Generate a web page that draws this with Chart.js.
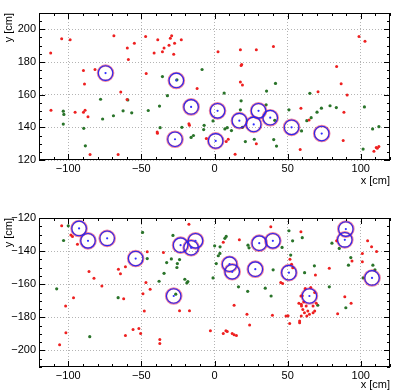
<!DOCTYPE html>
<html>
<head>
<meta charset="utf-8">
<script src="https://cdn.jsdelivr.net/npm/chart.js@4.4.0/dist/chart.umd.min.js"></script>
<style>
  html, body { margin: 0; padding: 0; background: #fff; }
  #top, #bot { position: absolute; left: 0; width: 400px; }
  #top { top: 0; height: 190px; }
  #bot { top: 190px; height: 202px; }
</style>
</head>
<body>
<div id="top"><canvas id="topChart"></canvas></div>
<div id="bot"><canvas id="botChart"></canvas></div>
<script>
// axis tick labels
var xTicks = [-100, -50, 0, 50, 100];
var yTicksTop = [120, 140, 160, 180, 200];
var yTicksBot = [-200, -180, -160, -140, -120];

// ---- top panel ----
var ringTopX = [-74.5, -26.1, -16, -27, 2.1, 17, 0.8, 26.8, 30.1, 38.1, 52.7, 73.3];
var ringTopY = [173.2, 168.7, 152.5, 132.7, 150.1, 144.1, 131.7, 141.8, 150.1, 145.9, 140, 136.2];

var redTopX = [-112, -104.5, -98.7, -68.8, -89.6, -81.7, -88.9, -64.1, -59.8, -111.8, -95.3, -89.6, -88.5, -86.5, -85.1, -65.9,
  -59.6, -54.8, -58.9, -47.1, -38.8, -41.3, -35.6, -34.5, -31.1, -30.2, -29.3, -27.3, -27.9, -22.7, -46.7, -11.9, -39, -39.2, -17.5, -17.1, -5.6,
  2.4, 17.7, 28.6, 40.3, 18.2, 18.6, 17.7, 19.1, 59.1, 9.4, 8, 28.6, 14.1, 58.6,
  98.8, 102.9, 83.5, 86.6, 70.8, 90.7, 88.5, 88, 110.6, 109, 112.4, 111.3, 64.7];
var redTopY = [185.5, 194.2, 193.6, 196, 174.8, 175.4, 166.5, 161.6, 157, 150.5, 149.3, 149.3, 150.5, 146.5, 123.3, 123.3,
  188.5, 191.5, 181.6, 195.6, 193.6, 185.5, 186.3, 188.5, 190.3, 194.6, 196, 191.5, 184.7, 193.6, 173, 163.7, 136.4, 137.2, 142.2, 141.2, 133.2,
  186.3, 187.5, 187.5, 189.5, 177.8, 178.4, 167.7, 165.9, 151.7, 132.7, 131.3, 129.9, 123.5, 126.5,
  195.6, 192.7, 177.2, 166.7, 161.8, 159.8, 149.3, 131.9, 127.7, 125.3, 128.3, 127.2, 144.5];

var greenTopX = [-77.9, -103.4, -103, -103.4, -76.5, -69.1, -62.5, -59.3, -89.4, -88.3,
  -8.5, -35.6, -25.7, -32.2, -56.6, -45.3, -37.6, -37.2, -22.3, -16, -14.4, -7.1, -7.4, -1,
  6.6, 18.2, 35.6, 41.7, 17.7, 35.3, 41.2, 50.9, 59.5, 7.1, 8.7, 11.6, 19.1, 21.1, 27.2, 40.5, 42.4,
  65.2, 102.5, 79, 83.3, 73.1, 70.1, 66.1, 63.1, 112.4, 108.1, 101.6];
var greenTopY = [157.2, 149.9, 147.9, 142, 145.1, 147.1, 150.1, 156.8, 139.4, 128.7,
  175.4, 171.1, 169.1, 159.4, 148.9, 150.3, 153, 139.8, 140, 133.8, 135, 141.2, 138.6, 143.9,
  161, 156.2, 162.2, 166.9, 150.7, 153.8, 144.3, 150.7, 137.8, 139, 139.8, 138, 140, 131.3, 132.7, 132.5, 128.5,
  160.8, 152.5, 153.2, 152.1, 151.7, 149.3, 145.9, 144.1, 140.4, 139, 126.7];

// ---- bottom panel ----
var ringBotX = [-92.6, -86.5, -73.4, -53.9, -23.2, -16, -13, -27.9, 30.6, 39.9, 10.3, 12.1, 27.9, 50.9, 89.8, 89.1, 107.7, 64.9];
var ringBotY = [-126.3, -133.8, -132.3, -144.5, -136.4, -138, -133.8, -167.1, -135.2, -133.8, -147.9, -152.5, -150.9, -153, -126.7, -133.2, -156.2, -167.1];

var redBotX = [-104.5, -98.2, -97.1, -93.7, -85.8, -82.4, -77, -65.7, -64.3, -60.9, -96.4, -101.8, -62.1, -101.6, -105.9, -60.9,
  -46, -46.9, -44, -48.9, -48, -23.9, -17.1, -34.9, -17.5, -2.8, -55.7, -51.7, -50.5, -37.4, -37.4,
  38.5, 59.1, 17, 6, 13.4, 22.2, 24, 39.6, 48.9, 50.3, 51.4, 58.2, 6, 7.8, 8.7, 12.1, 13.4, 15, 45.3, 46.6, 52.7, 51.6, 53.5, 59.1, 57.7, 59.5,
  104.7, 107.4, 110.8, 101.1, 101.1, 78.5, 69, 89.1, 93.4, 84.2, 83.5, 94, 58.2,
  59.3, 60.4, 61.5, 63.1, 64.9, 62.7, 61, 67.4, 68.5, 69.6, 67.4, 63.8, 59.3, 60, 68.5, 62, 65.8];
var redBotY = [-124.7, -130.3, -131.1, -135.8, -152.3, -156.4, -161, -150.9, -153.6, -149.5, -168.1, -173.2, -168.7, -189.3, -196.6, -190.9,
  -140.4, -159, -163, -165.7, -176.2, -176, -176, -140.8, -123.7, -188.1, -187.3, -186.7, -189.7, -193.4, -195.8,
  -125.3, -128.3, -133.2, -134.6, -172.7, -178.2, -184.7, -178.8, -179.2, -179, -183.7, -183.3, -189.7, -188.1, -188.6, -189.7, -190.5, -190.9, -159, -159.6, -147.9, -144.9, -150, -167.1, -171.5, -173.2,
  -133.8, -137.4, -140.2, -141.4, -146.5, -150.3, -154.4, -167.5, -171.5, -177.8, -133.8, -146, -182.2,
  -172.1, -175.2, -177.2, -179.2, -178.2, -173.2, -170.7, -173.2, -176.2, -171.5, -177.2, -176.2, -179.2, -167, -165, -162.6, -162];

var greenBotX = [-100, -103.2, -107.9, -65.9, -85.3,
  -49.2, -28.4, -46, -29.5, -32.7, -23.9, -25.4, -25.7, -34.5, -37.9, -20.3, -18.9, -18.2, -1, 0.1, -26.5,
  7.1, 8, 22.9, 23.6, 50.9, 53.4, 46.2, 52.1, 3.7, 2.6, 1.2, 16.4, 22.7, 34.7, 38.7, 40.1, 3.8,
  60, 80.3, 85.3, 93.2, 91.6, 68.3, 61.6, 78.5, 70.6, 89.8, 108.3, 109.7, 101.6];
var greenBotY = [-124.7, -133.6, -162.8, -168.1, -191.7,
  -128.7, -130.5, -144.5, -144.7, -146.9, -145.1, -147.5, -149.9, -153.4, -158.2, -157, -159.2, -158.4, -156.2, -136.8, -166,
  -132.3, -131.1, -136.4, -138, -127.7, -133.8, -137.8, -142.4, -141.4, -142.8, -147.5, -161.6, -164.3, -162.4, -167.1, -151.3, -137.4,
  -131.9, -135.2, -138.4, -143.9, -148.5, -148.9, -153, -161.6, -172.7, -174.2, -148.5, -151.3, -156.2];

function pts(xs, ys) {
  return xs.map(function (x, i) { return { x: x, y: ys[i] }; });
}

var FONT = { family: "'Liberation Sans', Arial, sans-serif", size: 11, lineHeight: 1.2 };

// ROOT-style frame with inward ticks on all four sides
var frame = {
  id: 'frame',
  afterDraw: function (chart) {
    var a = chart.chartArea, ctx = chart.ctx;
    var xs = chart.scales.x, ys = chart.scales.y;
    ctx.save();
    ctx.strokeStyle = '#000';
    ctx.lineWidth = 1;
    ctx.strokeRect(a.left + 0.5, a.top + 0.5, a.right - a.left - 1, a.bottom - a.top - 1);
    ctx.beginPath();
    for (var v = Math.ceil(xs.min / 10) * 10; v <= xs.max; v += 10) {
      var px = Math.round(xs.getPixelForValue(v)) + 0.5;
      var len = v % 50 === 0 ? 6 : 3;
      ctx.moveTo(px, a.bottom); ctx.lineTo(px, a.bottom - len);
      ctx.moveTo(px, a.top); ctx.lineTo(px, a.top + len);
    }
    for (var w = Math.ceil(ys.min / 5) * 5; w <= ys.max; w += 5) {
      var py = Math.round(ys.getPixelForValue(w)) + 0.5;
      var l = w % 20 === 0 ? 6 : 3;
      ctx.moveTo(a.left, py); ctx.lineTo(a.left + l, py);
      ctx.moveTo(a.right, py); ctx.lineTo(a.right - l, py);
    }
    ctx.stroke();
    ctx.restore();
  }
};

function minus(v) { return String(v).replace('-', '\u2212'); }

function makeChart(id, rx, ry, gx, gy, cx, cy, yMin, yMax, yTicks, padTop, xAxisH, titlePad) {
  new Chart(document.getElementById(id), {
    type: 'scatter',
    data: {
      datasets: [
        { data: pts(cx, cy), pointRadius: 1.1, backgroundColor: '#3030ff', borderWidth: 0, order: 0 },
        { data: pts(cx, cy), pointRadius: 7.3, backgroundColor: 'rgba(0,0,0,0)', borderColor: '#2828f0', borderWidth: 1.1, order: 1 },
        { data: pts(cx, cy), pointRadius: 7.6, backgroundColor: 'rgba(0,0,0,0)', borderColor: 'rgba(225,0,60,0.5)', borderWidth: 2.4, order: 2 },
        { data: pts(rx, ry), pointRadius: 1.5, backgroundColor: '#ee2020', borderWidth: 0, order: 3 },
        { data: pts(gx, gy), pointRadius: 1.6, backgroundColor: '#2a742a', borderWidth: 0, order: 4 }
      ]
    },
    options: {
      responsive: true,
      maintainAspectRatio: false,
      animation: false,
      events: [],
      layout: { padding: { top: padTop, right: 7, left: 0, bottom: 0 } },
      plugins: { legend: { display: false }, tooltip: { enabled: false } },
      scales: {
        x: {
          type: 'linear', min: -120, max: 120,
          afterBuildTicks: function (s) { s.ticks = xTicks.map(function (v) { return { value: v }; }); },
          afterFit: function (s) { s.height = xAxisH; },
          ticks: { font: FONT, color: '#000', padding: 2, callback: minus, maxRotation: 0 },
          grid: { color: '#b4b4b4', drawTicks: false },
          border: { display: false, dash: [1, 2] },
          title: { display: true, text: 'x [cm]', align: 'end', font: FONT, color: '#000', padding: { top: 0, bottom: titlePad } }
        },
        y: {
          type: 'linear', min: yMin, max: yMax,
          afterBuildTicks: function (s) { s.ticks = yTicks.map(function (v) { return { value: v }; }); },
          afterFit: function (s) { s.width = 39; },
          ticks: { font: FONT, color: '#000', padding: 3, callback: minus },
          grid: { color: '#b4b4b4', drawTicks: false },
          border: { display: false, dash: [1, 2] },
          title: { display: true, text: 'y [cm]', align: 'end', font: FONT, color: '#000', padding: { top: 2.5, bottom: 0 } }
        }
      }
    },
    plugins: [frame]
  });
}

makeChart('topChart', redTopX, redTopY, greenTopX, greenTopY, ringTopX, ringTopY, 120, 210, yTicksTop, 13, 30, 2.4);
makeChart('botChart', redBotX, redBotY, greenBotX, greenBotY, ringBotX, ringBotY, -210, -120, yTicksBot, 28, 25, 0.4);
</script>
</body>
</html>
